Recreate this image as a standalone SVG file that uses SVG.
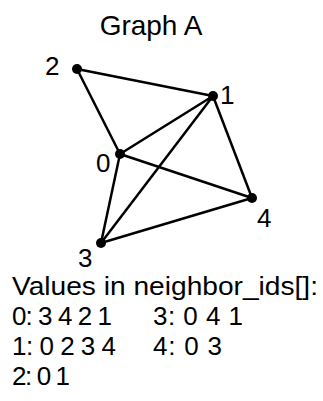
<svg xmlns="http://www.w3.org/2000/svg" width="323" height="401" viewBox="0 0 323 401">
<style>
.t{font-family:"Liberation Sans",Arial,sans-serif;fill:#000}
.title{font-size:28px}
.lbl{font-size:26px}
.v{font-family:"Liberation Sans",Arial,sans-serif;font-size:26px;fill:#000}
.e{stroke:#000;stroke-width:2.5;fill:none}
.n{fill:#000}
</style>
<rect width="323" height="401" fill="#fff"/>
<text class="t title" x="151" y="35" text-anchor="middle">Graph A</text>
<g id="edges">
<line class="e" x1="77" y1="69" x2="213" y2="96"/>
<line class="e" x1="77" y1="69" x2="120" y2="154"/>
<line class="e" x1="120" y1="154" x2="213" y2="96"/>
<line class="e" x1="120" y1="154" x2="252" y2="198"/>
<line class="e" x1="120" y1="154" x2="101" y2="243"/>
<line class="e" x1="101" y1="243" x2="213" y2="96"/>
<line class="e" x1="101" y1="243" x2="252" y2="198"/>
<line class="e" x1="213" y1="96" x2="252" y2="198"/>
</g>
<g id="node0"><circle class="n" cx="120" cy="154" r="5"/><text class="t lbl" x="96" y="172">0</text></g>
<g id="node1"><circle class="n" cx="213" cy="96" r="5"/><text class="t lbl" x="220" y="104">1</text></g>
<g id="node2"><circle class="n" cx="77" cy="69" r="5"/><text class="t lbl" x="45" y="75">2</text></g>
<g id="node3"><circle class="n" cx="101" cy="243" r="5"/><text class="t lbl" x="78" y="267">3</text></g>
<g id="node4"><circle class="n" cx="252" cy="198" r="5"/><text class="t lbl" x="257" y="227">4</text></g>
<g id="values">
<text class="v" x="12" y="295" textLength="306" lengthAdjust="spacingAndGlyphs">Values in neighbor_ids[]:</text>
<text class="v" x="12" y="325" textLength="100">0: 3 4 2 1</text>
<text class="v" x="153" y="325" textLength="90">3: 0 4 1</text>
<text class="v" x="12" y="355" textLength="104">1: 0 2 3 4</text>
<text class="v" x="153" y="355" textLength="69">4: 0 3</text>
<text class="v" x="12" y="385" textLength="58">2: 0 1</text>
</g>
</svg>
